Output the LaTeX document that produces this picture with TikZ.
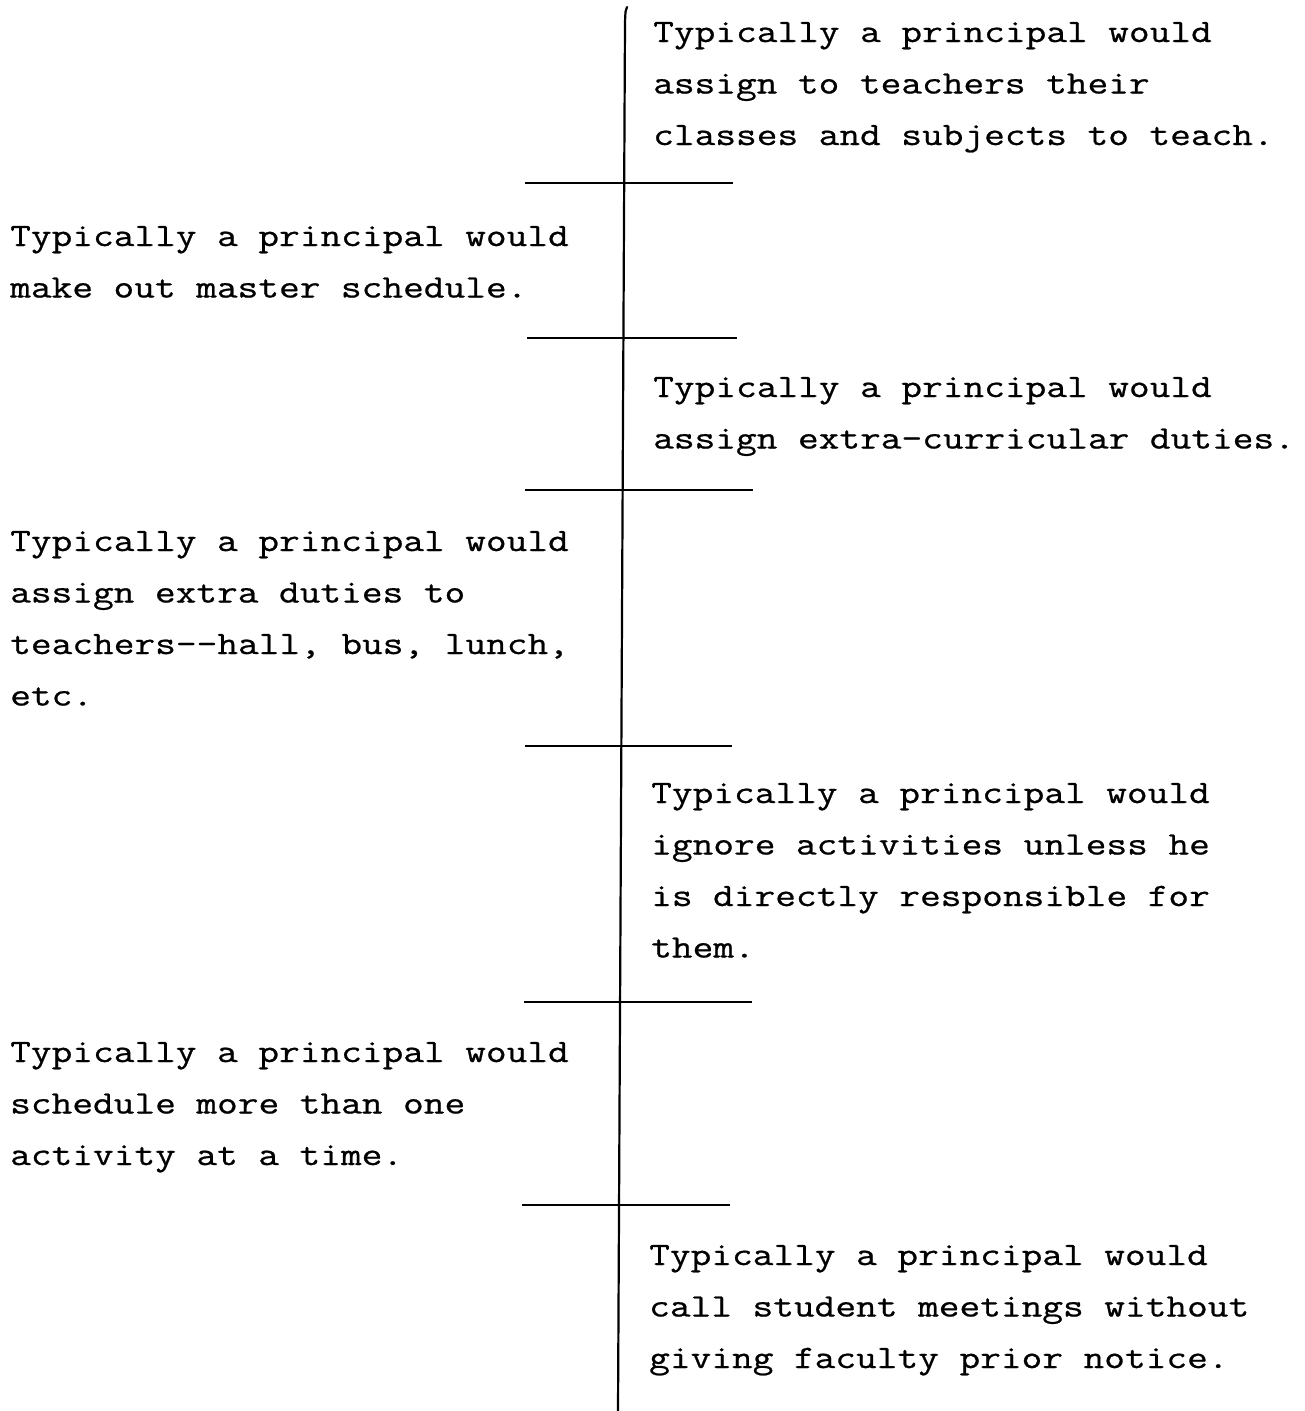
\documentclass[tikz,border=0pt]{standalone}
\usepackage{fontspec}
\newfontfamily\typewriter{Latin Modern Mono}[FakeStretch=1.23, FakeBold=0.7]
\newcommand\fixedspaces{\spaceskip=20.5pt\relax\xspaceskip=20.5pt\relax}
\begin{document}
\begin{tikzpicture}[x=1pt,y=-1pt,
  entry/.style={anchor=base west, inner sep=0pt, text width=680pt, align=left,
    font=\typewriter\fontsize{32.7}{51.5}\selectfont,
    execute at begin node=\fixedspaces},
  spine/.style={line width=2.2pt, line cap=round},
  tick/.style={line width=2.8pt}]
\useasboundingbox (0,0) rectangle (1305,1411);

% central spine
\coordinate (top) at (627,7);
\coordinate (topbend) at (625,22);
\coordinate (bottom) at (618,1411);
\draw[spine] (top) .. controls (625.5,10) .. (topbend) -- (bottom);

% tick marks across the spine
\coordinate (t1a) at (525,183);  \coordinate (t1b) at (733,183);
\coordinate (t2a) at (527,338);  \coordinate (t2b) at (737,338);
\coordinate (t3a) at (525,490);  \coordinate (t3b) at (753,490);
\coordinate (t4a) at (525,746);  \coordinate (t4b) at (732,746);
\coordinate (t5a) at (524,1002); \coordinate (t5b) at (752,1002);
\coordinate (t6a) at (522,1205); \coordinate (t6b) at (730,1205);
\foreach \i in {1,...,6} \draw[tick] (t\i a) -- (t\i b);

% statements
\node[entry] (r1) at (653,42) {Typically a principal would\\assign to teachers their\\classes and subjects to teach.};
\node[entry] (l1) at (10,246) {Typically a principal would\\make out master schedule.};
\node[entry] (r2) at (653,397) {Typically a principal would\\assign extra-curricular duties.};
\node[entry] (l2) at (10,551) {Typically a principal would\\assign extra duties to\\teachers--hall, bus, lunch,\\etc.};
\node[entry] (r3) at (651,803) {Typically a principal would\\ignore activities unless he\\is directly responsible for\\them.};
\node[entry] (l3) at (10,1062) {Typically a principal would\\schedule more than one\\activity at a time.};
\node[entry] (r4) at (649,1265) {Typically a principal would\\call student meetings without\\giving faculty prior notice.};
\end{tikzpicture}
\end{document}
